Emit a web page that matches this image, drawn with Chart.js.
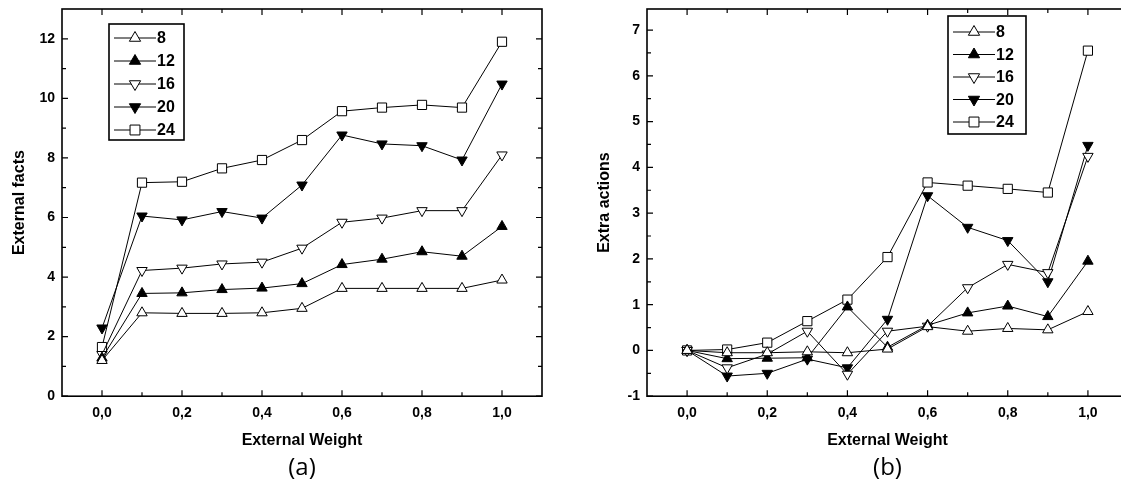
<!DOCTYPE html>
<html>
<head>
<meta charset="utf-8">
<script src="https://cdn.jsdelivr.net/npm/chart.js@4/dist/chart.umd.min.js"></script>
<style>
    html, body { margin: 0; padding: 0; background: #fff; overflow: hidden; }
    #wrap { position: relative; width: 1121px; height: 487px; overflow: hidden; }
    .panel { position: absolute; top: 0; }
    #panelA { left: 0; }
    #panelB { left: 560px; }
</style>
</head>
<body>
<div id="wrap">
    <div class="panel" id="panelA"><canvas id="chartA" width="560" height="487"></canvas></div>
    <div class="panel" id="panelB"><canvas id="chartB" width="600" height="487"></canvas></div>
</div>
<script>
const weights = [0, 0.1, 0.2, 0.3, 0.4, 0.5, 0.6, 0.7, 0.8, 0.9, 1.0];
const seriesLabels = ['8', '12', '16', '20', '24'];

// (a) External facts
const facts8  = [1.2, 2.8, 2.78, 2.78, 2.8, 2.95, 3.62, 3.62, 3.62, 3.62, 3.9];
const facts12 = [1.28, 3.45, 3.47, 3.58, 3.63, 3.78, 4.42, 4.6, 4.85, 4.7, 5.7];
const facts16 = [1.4, 4.22, 4.3, 4.44, 4.5, 4.97, 5.84, 5.98, 6.23, 6.23, 8.1];
const facts20 = [2.29, 6.05, 5.92, 6.2, 5.98, 7.09, 8.77, 8.47, 8.41, 7.93, 10.48];
const facts24 = [1.65, 7.17, 7.2, 7.65, 7.93, 8.6, 9.57, 9.69, 9.78, 9.69, 11.9];

// (b) Extra actions
const actions8  = [0, -0.05, -0.05, -0.03, -0.05, 0.03, 0.52, 0.42, 0.48, 0.45, 0.85];
const actions12 = [0, -0.18, -0.17, -0.16, 0.95, 0.07, 0.55, 0.82, 0.97, 0.74, 1.95];
const actions16 = [0, -0.38, -0.08, 0.42, -0.52, 0.42, 0.53, 1.37, 1.88, 1.7, 4.24];
const actions20 = [0, -0.56, -0.5, -0.19, -0.38, 0.68, 3.38, 2.69, 2.4, 1.5, 4.48];
const actions24 = [0, 0.02, 0.17, 0.64, 1.11, 2.04, 3.67, 3.6, 3.53, 3.45, 6.55];

const xTicks = [0, 0.2, 0.4, 0.6, 0.8, 1.0];
const xTickLabels = ['0,0', '0,2', '0,4', '0,6', '0,8', '1,0'];
const factsTicks = [0, 2, 4, 6, 8, 10, 12];
const actionsTicks = [-1, 0, 1, 2, 3, 4, 5, 6, 7];

Chart.defaults.font.family = '"Liberation Sans", Arial, sans-serif';
Chart.defaults.color = '#000';

// open / filled triangles up and down, open square
const markers = [
    { style: 'triangle', rot: 0, fill: '#fff', r: 6 },
    { style: 'triangle', rot: 0, fill: '#000', r: 6 },
    { style: 'triangle', rot: 180, fill: '#fff', r: 6 },
    { style: 'triangle', rot: 180, fill: '#000', r: 6 },
    { style: 'rect', rot: 0, fill: '#fff', r: 6.5 }
];

// frame round the plot with inward ticks on all four sides
const frameTicks = {
    id: 'frameTicks',
    afterDatasetsDraw(chart) {
        const { ctx, chartArea: a, scales: { x, y } } = chart;
        const xs = x.ticks.map(t => t.value);
        const ys = y.ticks.map(t => t.value);
        const mids = vals => vals.slice(1).map((v, i) => (v + vals[i]) / 2);
        const xMinor = mids(xs);
        const yMinor = mids(ys).concat([ys[ys.length - 1] + (ys[1] - ys[0]) / 2]);

        ctx.save();
        ctx.strokeStyle = '#000';
        ctx.lineWidth = 1.2;
        ctx.beginPath();
        const xMark = (v, len) => {
            const px = x.getPixelForValue(v);
            ctx.moveTo(px, a.bottom); ctx.lineTo(px, a.bottom - len);
            ctx.moveTo(px, a.top); ctx.lineTo(px, a.top + len);
        };
        const yMark = (v, len) => {
            const py = y.getPixelForValue(v);
            if (py < a.top + 1) return;
            ctx.moveTo(a.left, py); ctx.lineTo(a.left + len, py);
            ctx.moveTo(a.right, py); ctx.lineTo(a.right - len, py);
        };
        xs.forEach(v => xMark(v, 6));
        xMinor.forEach(v => xMark(v, 4));
        ys.forEach(v => yMark(v, 6));
        yMinor.forEach(v => yMark(v, 4));
        ctx.stroke();

        ctx.lineWidth = 1.6;
        ctx.strokeRect(a.left, a.top, a.right - a.left, a.bottom - a.top);
        ctx.restore();
    }
};

// boxed legend drawn inside the plot
const boxLegend = {
    id: 'boxLegend',
    afterDraw(chart, args, opts) {
        const ctx = chart.ctx;
        ctx.save();
        ctx.strokeStyle = '#000';
        ctx.lineWidth = 1.6;
        ctx.strokeRect(opts.left, opts.top, opts.width, opts.height);
        chart.data.datasets.forEach((ds, i) => {
            const yy = opts.top + opts.firstRow + i * opts.rowGap;
            const m = markers[i];
            ctx.lineWidth = 1;
            ctx.strokeStyle = '#000';
            ctx.beginPath();
            ctx.moveTo(opts.left + 5, yy);
            ctx.lineTo(opts.left + 47, yy);
            ctx.stroke();
            ctx.fillStyle = m.fill;
            Chart.helpers.drawPoint(ctx, {
                pointStyle: m.style, rotation: m.rot, radius: m.r + 0.5, borderWidth: 1
            }, opts.left + 26, yy);
            ctx.fillStyle = '#000';
            ctx.font = 'bold 16px "Liberation Sans", Arial, sans-serif';
            ctx.textAlign = 'left';
            ctx.textBaseline = 'middle';
            ctx.fillText(ds.label, opts.left + 48, yy + 1);
        });
        ctx.restore();
    }
};

function makeChart(id, series, yMin, yMax, yTicks, yTitle, caption, frameLeft, padRight, yTitlePad, legend) {
    const datasets = series.map((vals, i) => ({
        label: seriesLabels[i],
        data: vals.map((v, j) => ({ x: weights[j], y: v })),
        borderColor: '#000',
        borderWidth: 1,
        pointStyle: markers[i].style,
        pointRotation: markers[i].rot,
        pointRadius: markers[i].r,
        pointBackgroundColor: markers[i].fill,
        pointBorderColor: '#000',
        pointBorderWidth: 1,
        tension: 0
    }));

    return new Chart(document.getElementById(id), {
        type: 'line',
        data: { datasets: datasets },
        options: {
            responsive: false,
            animation: false,
            devicePixelRatio: 1,
            layout: { padding: { top: 9, right: padRight, left: 0, bottom: 0 } },
            scales: {
                x: {
                    type: 'linear',
                    min: -0.1,
                    max: 1.1,
                    afterBuildTicks: s => { s.ticks = xTicks.map(v => ({ value: v })); },
                    afterFit: s => { s.height = 58; s.paddingLeft = 0; s.paddingRight = 0; },
                    grid: { display: false, drawTicks: false },
                    border: { display: false },
                    ticks: {
                        autoSkip: false,
                        maxRotation: 0,
                        padding: 9,
                        font: { size: 14, weight: 'bold' },
                        callback: (v, i) => xTickLabels[i]
                    },
                    title: {
                        display: true,
                        text: 'External Weight',
                        font: { size: 16, weight: 'bold' },
                        padding: { top: 0, bottom: 4 }
                    }
                },
                y: {
                    type: 'linear',
                    min: yMin,
                    max: yMax,
                    afterBuildTicks: s => { s.ticks = yTicks.map(v => ({ value: v })); },
                    afterFit: s => { s.width = frameLeft; s.paddingTop = 0; s.paddingBottom = 0; },
                    grid: { display: false, drawTicks: false },
                    border: { display: false },
                    ticks: {
                        autoSkip: false,
                        padding: 7,
                        font: { size: 14, weight: 'bold' },
                        callback: v => String(v)
                    },
                    title: {
                        display: true,
                        text: yTitle,
                        font: { size: 16, weight: 'bold' },
                        padding: { top: yTitlePad, bottom: 0 }
                    }
                }
            },
            plugins: {
                legend: { display: false },
                tooltip: { enabled: false },
                title: {
                    display: true,
                    position: 'bottom',
                    fullSize: false,
                    text: caption,
                    color: '#000',
                    font: { family: '"Open Sans", sans-serif', size: 24, weight: 'normal', lineHeight: 1.2 },
                    padding: { top: 0, bottom: 4 }
                },
                boxLegend: legend
            }
        },
        plugins: [frameTicks, boxLegend]
    });
}

makeChart('chartA', [facts8, facts12, facts16, facts20, facts24], 0, 13, factsTicks,
    'External facts', '(a)', 62, 18, 10,
    { left: 109, top: 24, width: 75, height: 116, firstRow: 14, rowGap: 23 });

makeChart('chartB', [actions8, actions12, actions16, actions20, actions24], -1, 7.46, actionsTicks,
    'Extra actions', '(b)', 87, 32, 35,
    { left: 388, top: 16, width: 78, height: 118, firstRow: 16, rowGap: 22.5 });
</script>
</body>
</html>
